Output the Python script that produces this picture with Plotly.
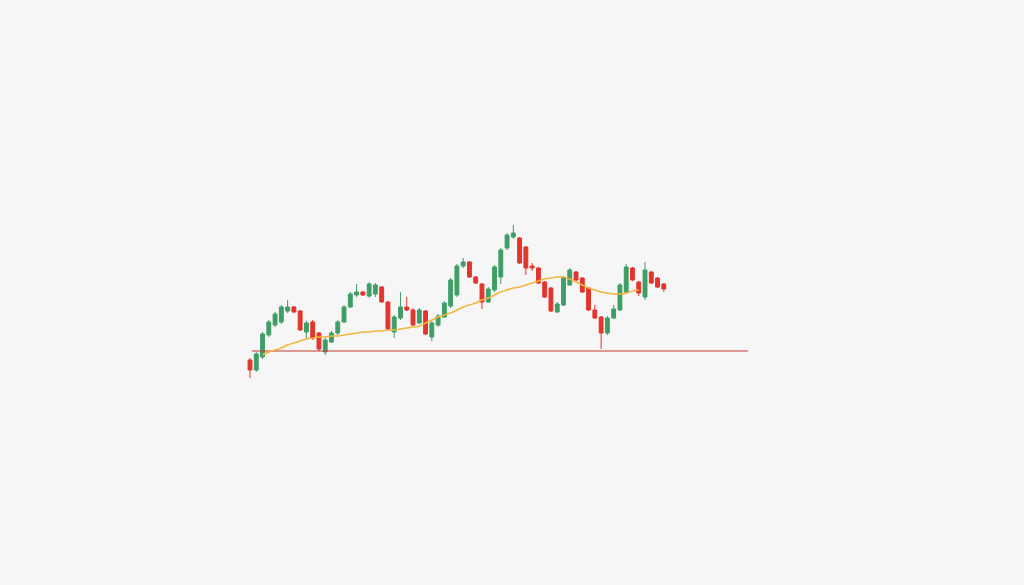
import plotly.graph_objects as go

# Candle data (price units)
opens = [45, 40, 46.5, 57.5, 62.5, 64, 69.5, 71.5, 69.5, 59, 64, 58.5, 49, 54, 58.5, 64, 71.5,
         77.5, 79, 77, 78, 81.5, 74, 59, 66, 71.5, 70, 63.5, 69.5, 56.5, 62.5, 66.5, 72, 77.5,
         92, 94, 86.5, 83, 74, 80, 86.5, 101, 106.5, 106, 101.5, 92, 91, 84, 81, 69, 72.5, 82.5,
         89, 86, 81, 70, 66.5, 58.5, 66, 70, 79, 91, 84, 76.5, 89, 86, 83]
highs = [46, 49, 59, 65, 69, 72.5, 75, 72, 70, 64.5, 65, 59, 56, 59.5, 65, 72.5, 79,
         83, 79.5, 84, 83.5, 82, 74.5, 67.5, 79, 76.5, 71, 71, 70, 64.5, 68, 74.5, 86, 93,
         96, 94.5, 87, 83.5, 81.5, 92.5, 101, 108.5, 112.5, 106.5, 102, 93.5, 91.5, 84.5, 81.5, 74, 87, 91,
         89.5, 86.5, 81.5, 72.5, 67, 67, 72.5, 83.5, 93, 91.5, 84.5, 94, 89.5, 86.5, 83.5]
lows = [36, 39, 45.5, 56.5, 61.5, 63, 68.5, 68.5, 59.5, 56, 55, 49.5, 47.5, 53.5, 57.5, 63.5, 71,
        76.5, 77, 76, 76.5, 73.5, 60, 56, 65, 69.5, 62, 63, 57.5, 54.5, 61.5, 66, 71, 76.5,
        91, 86, 83, 70.5, 73.5, 79, 83, 100, 105.5, 93, 87.5, 89.5, 83, 76, 69, 68.5, 72, 82,
        84.5, 78.5, 69.5, 65.5, 50.5, 57.5, 65.5, 69.5, 78, 84.5, 77, 75, 83, 81, 79]
closes = [40, 48, 58, 64, 68, 71.5, 71.5, 69, 60, 63.5, 56, 50.5, 55, 58.5, 64, 71.5, 78,
          79, 77.5, 83, 82.5, 74, 60.5, 66.5, 71.5, 70, 62.5, 70, 58, 63.5, 67, 73.5, 85, 92,
          94, 86.5, 83.5, 74, 80.5, 91.5, 100, 107.5, 108.5, 93.5, 91, 91, 83.5, 76.5, 69.5, 73, 86, 90,
          85, 79, 70, 66, 58.5, 66, 70.5, 82.5, 91.5, 85, 78.5, 90, 83.5, 81.5, 80.5]

# Moving average line (None where not drawn)
moving_avg = [None, None,
              47.5, 49, 50, 51, 52.5, 53.5, 54.5, 55.5, 56, 56.5, 56.5, 57, 57, 57.5, 58, 58.5,
              59, 59, 59.5, 59.5, 60, 60, 60.5, 61, 61.5, 62, 63.5, 65, 66.5, 67.5, 68.5, 70,
              71.5, 72.5, 73.5, 75, 76, 77.5, 79, 80, 81, 81.5, 82.5, 83.5, 84.5, 85.5, 86, 86.5,
              86.5, 85.5, 84, 82.5, 81, 80, 79, 78.5, 78, 78, 78.5, 79.5, 80,
              None, None, None, None]

support_level = 49.5
support_span = [0.3, 79.4]

idx = list(range(len(opens)))

fig = go.Figure()
fig.add_trace(go.Scatter(
    x=support_span, y=[support_level, support_level], mode="lines",
    line=dict(color="#c43a32", width=1), hoverinfo="skip", showlegend=False))
fig.add_trace(go.Scatter(
    x=idx, y=moving_avg, mode="lines",
    line=dict(color="#f2b43a", width=1.5, shape="spline"), hoverinfo="skip", showlegend=False))
fig.add_trace(go.Candlestick(
    x=idx, open=opens, high=highs, low=lows, close=closes,
    increasing=dict(line=dict(color="#3f9e66", width=1), fillcolor="#3f9e66"),
    decreasing=dict(line=dict(color="#e2352c", width=1), fillcolor="#e2352c"),
    whiskerwidth=0, showlegend=False))

fig.update_layout(
    width=1024, height=585,
    margin=dict(l=240, r=264, t=200, b=185),
    paper_bgcolor="#f6f6f6", plot_bgcolor="#f6f6f6",
    boxgap=0.12,
    xaxis=dict(range=[-1.595, 81.34], visible=False, rangeslider=dict(visible=False)),
    yaxis=dict(range=[25, 125], visible=False),
    showlegend=False,
)
fig.write_html(
    "out.html",
    config={"displayModeBar": False},
    post_script="document.body.style.margin='0';document.body.style.overflow='hidden';document.body.style.background='#f6f6f6';",
)
